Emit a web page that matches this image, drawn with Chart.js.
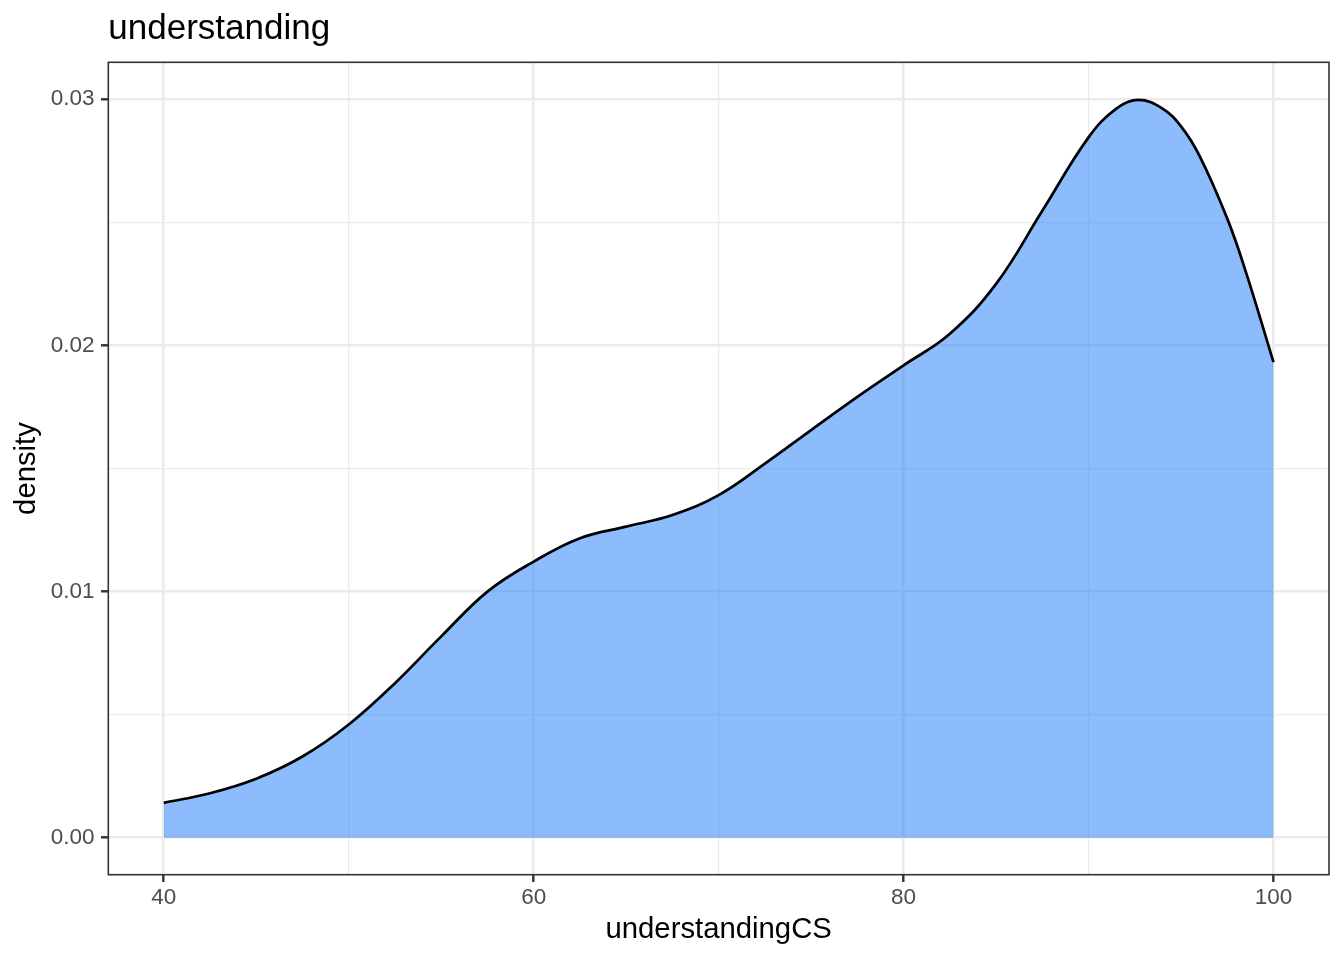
<!DOCTYPE html>
<html>
<head>
<meta charset="utf-8">
<script src="https://cdn.jsdelivr.net/npm/chart.js@4/dist/chart.umd.min.js"></script>
<style>
  html, body { margin: 0; padding: 0; background: #ffffff; }
  #wrap { width: 1344px; height: 960px; }
</style>
</head>
<body>
<div id="wrap"><canvas id="c" width="1344" height="960"></canvas></div>
<script>
// ---- data ----
const understandingCS = [40, 42.5, 45, 47.5, 50, 52.5, 55, 57.5, 60, 62.5, 65, 67.5, 70, 72.5, 75, 77.5, 80, 82.5, 85, 87.5, 90, 91.5, 92.7, 94, 95, 96, 97.5, 98.5, 100];
const density = [0.00142, 0.00181, 0.0024, 0.0033, 0.0046, 0.00628, 0.00818, 0.0100, 0.01122, 0.01217, 0.01264, 0.01311, 0.01392, 0.0152, 0.01656, 0.01791, 0.01919, 0.02047, 0.0225, 0.02547, 0.02845, 0.02962, 0.02997, 0.02962, 0.0289, 0.0277, 0.02515, 0.0230, 0.01932];
const xTicks = [40, 50, 60, 70, 80, 90, 100];
const xMajor = [40, 60, 80, 100];
const yTicks = [0, 0.005, 0.01, 0.015, 0.02, 0.025, 0.03];
const yMajor = [0, 0.01, 0.02, 0.03];
const titleText = 'understanding';
const xTitle = 'understandingCS';
const yTitle = 'density';

const FONT = '"Liberation Sans", Arial, Helvetica, sans-serif';
const isMajor = (list, v) => list.some(m => Math.abs(m - v) < 1e-9);

const panelBorder = {
  id: 'panelBorder',
  afterDraw(chart) {
    const { ctx, chartArea: { left, top, right, bottom } } = chart;
    ctx.save();
    ctx.strokeStyle = '#333333';
    ctx.lineWidth = 1.6;
    ctx.strokeRect(left, top, right - left, bottom - top);
    ctx.restore();
  }
};

new Chart(document.getElementById('c'), {
  type: 'line',
  data: {
    datasets: [{
      data: understandingCS.map((x, i) => ({ x: x, y: density[i] })),
      borderColor: '#000000',
      borderWidth: 2.7,
      backgroundColor: 'rgba(27,121,249,0.5)',
      fill: 'origin',
      pointRadius: 0,
      tension: 0.4
    }]
  },
  options: {
    responsive: false,
    devicePixelRatio: 1,
    animation: false,
    layout: { padding: { left: 0, top: 0, right: 15, bottom: 0 } },
    plugins: {
      legend: { display: false },
      tooltip: { enabled: false },
      title: {
        display: true,
        text: titleText,
        align: 'start',
        fullSize: false,
        color: '#000000',
        font: { family: FONT, size: 35, weight: 'normal', lineHeight: 1 },
        padding: { top: 11.5, bottom: 15.8 }
      }
    },
    scales: {
      x: {
        type: 'linear',
        min: 37,
        max: 103,
        afterBuildTicks: (s) => { s.ticks = xTicks.map(v => ({ value: v })); },
        afterFit: (s) => { s.height = 85.3; },
        ticks: {
          autoSkip: false,
          maxRotation: 0,
          padding: 5,
          color: '#4D4D4D',
          font: { family: FONT, size: 22.5, lineHeight: 1 },
          callback: (v) => isMajor(xMajor, v) ? String(v) : ''
        },
        grid: {
          color: '#EBEBEB',
          lineWidth: (c) => (c.tick && isMajor(xMajor, c.tick.value)) ? 2.6 : 1.3,
          tickColor: (c) => (c.tick && isMajor(xMajor, c.tick.value)) ? '#333333' : 'rgba(0,0,0,0)',
          tickWidth: 2.4,
          tickLength: 7.3,
          drawTicks: true
        },
        border: { display: false },
        title: {
          display: true,
          text: xTitle,
          color: '#000000',
          font: { family: FONT, size: 29.3, lineHeight: 1 },
          padding: { top: 0, bottom: 15.6 }
        }
      },
      y: {
        type: 'linear',
        min: -0.0015,
        max: 0.0315,
        afterBuildTicks: (s) => { s.ticks = yTicks.map(v => ({ value: v })); },
        afterFit: (s) => { s.width = 108.3; },
        ticks: {
          autoSkip: false,
          padding: 6.5,
          color: '#4D4D4D',
          font: { family: FONT, size: 22.5, lineHeight: 1 },
          callback: (v) => isMajor(yMajor, v) ? Number(v).toFixed(2) : ''
        },
        grid: {
          color: '#EBEBEB',
          lineWidth: (c) => (c.tick && isMajor(yMajor, c.tick.value)) ? 2.6 : 1.3,
          tickColor: (c) => (c.tick && isMajor(yMajor, c.tick.value)) ? '#333333' : 'rgba(0,0,0,0)',
          tickWidth: 2.4,
          tickLength: 7.3,
          drawTicks: true
        },
        border: { display: false },
        title: {
          display: true,
          text: yTitle,
          color: '#000000',
          font: { family: FONT, size: 29.3, lineHeight: 1 },
          padding: { top: 12.4, bottom: 0 }
        }
      }
    }
  },
  plugins: [panelBorder]
});
</script>
</body>
</html>
